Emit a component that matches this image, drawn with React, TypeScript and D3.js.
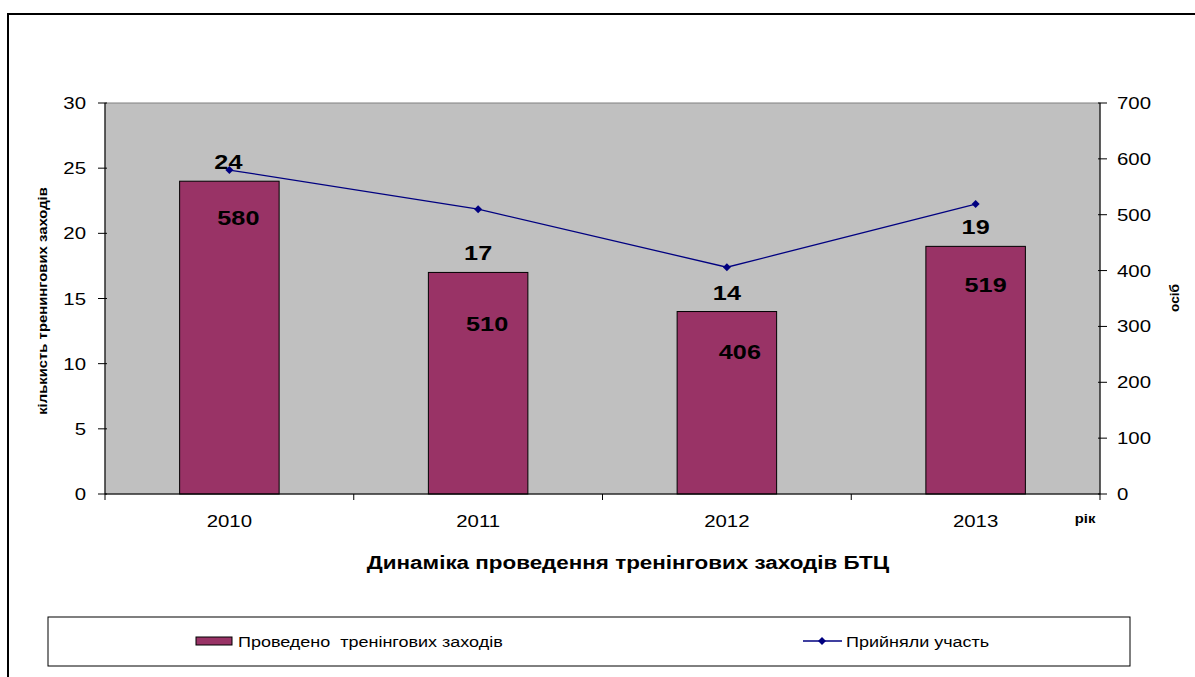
import React from "react";
import * as d3 from "d3";

const categories = ["2010", "2011", "2012", "2013"];
const eventsCount = [24, 17, 14, 19];
const participants = [580, 510, 406, 519];
const leftTicks = [0, 5, 10, 15, 20, 25, 30];
const rightTicks = [0, 100, 200, 300, 400, 500, 600, 700];
const barSeriesName = "Проведено  тренінгових заходів";
const lineSeriesName = "Прийняли участь";
const chartTitle = "Динаміка проведення тренінгових заходів БТЦ";
const leftAxisTitle = "кількисть тренингових заходів";
const rightAxisTitle = "осіб";
const xAxisTitle = "рік";
// label placement offsets (px) for the participants labels, relative to the bar centre / point
const partLabelDx = [9, 9, 13, 10];
const partLabelDy = [47, 114, 84, 80];

const SX = 1.2;

function T(props: any) {
  const { x, y, rotate = 0, sx = SX, children, ...rest } = props;
  return (
    <text transform={`translate(${x},${y})${rotate ? ` rotate(${rotate})` : ""} scale(${sx},1)`}
      style={{ whiteSpace: "pre" }} {...rest}>{children}</text>
  );
}

export default function App() {
  const W = 1195, H = 677;
  const left = 105, right = 1100, top = 103, bottom = 494;
  const font = "'Liberation Sans', Arial, sans-serif";

  const x = d3.scaleBand<string>().domain(categories).range([left, right]).paddingInner(0.6).paddingOuter(0.3);
  const band = d3.scaleBand<string>().domain(categories).range([left, right]);
  const yL = d3.scaleLinear().domain([0, 30]).range([bottom, top]);
  const yR = d3.scaleLinear().domain([0, 700]).range([bottom, top]);
  const cx = (c: string) => (band(c) as number) + band.bandwidth() / 2;

  const line = d3.line<number>()
    .x((_, i) => cx(categories[i]))
    .y((d) => yR(d));

  const diamond = (px: number, py: number, r = 4) =>
    `M${px},${py - r}L${px + r},${py}L${px},${py + r}L${px - r},${py}Z`;

  const bounds = [...categories.map((c) => band(c) as number), right];

  return (
    <svg width={W} height={H} style={{ position: "absolute", left: 0, top: 0, fontFamily: font }}>
      <rect x={0} y={0} width={W} height={H} fill="#fff" />
      <rect x={8} y={14} width={1300} height={800} fill="#fff" stroke="#000" strokeWidth={2} />
      <rect x={left} y={top} width={right - left} height={bottom - top} fill="#C0C0C0" stroke="#808080" strokeWidth={1} />

      {categories.map((c, i) => (
        <rect key={c} x={x(c)} y={yL(eventsCount[i])} width={x.bandwidth()} height={bottom - yL(eventsCount[i])}
          fill="#993366" stroke="#000" strokeWidth={1} />
      ))}

      {/* axes */}
      <line x1={left} y1={top} x2={left} y2={bottom} stroke="#000" />
      <line x1={right} y1={top} x2={right} y2={bottom} stroke="#000" />
      <line x1={left} y1={bottom} x2={right} y2={bottom} stroke="#000" />
      {leftTicks.map((t) => (
        <g key={"l" + t}>
          <line x1={left - 7} x2={left + 2} y1={yL(t)} y2={yL(t)} stroke="#000" />
          <T x={left - 19} y={yL(t) + 6} textAnchor="end" fontSize={17}>{t}</T>
        </g>
      ))}
      {rightTicks.map((t) => (
        <g key={"r" + t}>
          <line x1={right - 2} x2={right + 7} y1={yR(t)} y2={yR(t)} stroke="#000" />
          <T x={right + 17} y={yR(t) + 6} textAnchor="start" fontSize={17}>{t}</T>
        </g>
      ))}
      {bounds.map((b, i) => (
        <line key={"xb" + i} x1={b} x2={b} y1={bottom} y2={bottom + 6} stroke="#000" />
      ))}
      {categories.map((c) => (
        <T key={"xl" + c} x={cx(c)} y={527} textAnchor="middle" fontSize={17}>{c}</T>
      ))}

      <path d={line(participants) || ""} fill="none" stroke="#000080" strokeWidth={1.3} />
      {participants.map((v, i) => (
        <path key={"m" + i} d={diamond(cx(categories[i]), yR(v))} fill="#000080" />
      ))}

      {categories.map((c, i) => (
        <T key={"bl" + c} x={cx(c) - (i === 0 ? 1 : 0)} y={yL(eventsCount[i]) - 12} textAnchor="middle"
          fontSize={21} fontWeight="bold">{eventsCount[i]}</T>
      ))}
      {categories.map((c, i) => (
        <T key={"pl" + c} x={cx(c) + partLabelDx[i]} y={yR(participants[i]) + partLabelDy[i] + 7.5}
          textAnchor="middle" fontSize={21} fontWeight="bold">{participants[i]}</T>
      ))}

      <T x={47} y={301} rotate={-90} sx={1.1} textAnchor="middle" fontSize={13.5}
        fontWeight="bold">{leftAxisTitle}</T>
      <T x={1179} y={298} rotate={-90} sx={1.05} textAnchor="middle" fontSize={13}
        fontWeight="bold">{rightAxisTitle}</T>
      <T x={1085} y={523} sx={1.1} textAnchor="middle" fontSize={13.5} fontWeight="bold">{xAxisTitle}</T>
      <T x={628} y={569} sx={1.18} textAnchor="middle" fontSize={19} fontWeight="bold">{chartTitle}</T>

      {/* legend */}
      <rect x={48} y={617} width={1082} height={49} fill="#fff" stroke="#000" strokeWidth={1} />
      <rect x={196} y={637} width={36} height={8} fill="#993366" stroke="#000" strokeWidth={1} />
      <T x={238} y={646.5} fontSize={15}>{barSeriesName}</T>
      <line x1={803} x2={842} y1={641} y2={641} stroke="#000080" strokeWidth={1.3} />
      <path d={diamond(822, 641)} fill="#000080" />
      <T x={846} y={646.5} fontSize={15}>{lineSeriesName}</T>
    </svg>
  );
}
